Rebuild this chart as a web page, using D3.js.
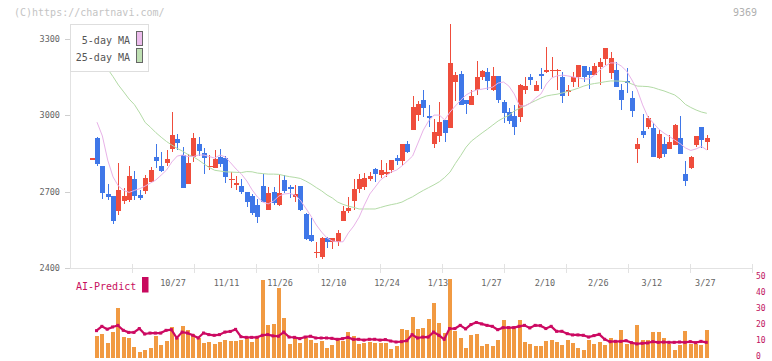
<!DOCTYPE html>
<html><head><meta charset="utf-8">
<script src="https://cdn.jsdelivr.net/npm/d3@7/dist/d3.min.js"></script>
<style>body{margin:0;background:#fff}svg{display:block}text{font-family:"DejaVu Sans Mono",monospace}</style>
</head><body><svg id="c" width="772" height="361"></svg>
<script>
const openP=[2831,2912,2801,2691,2683,2625,2663,2669,2750,2687,2703,2739,2837,2801,2814,2868,2907,2844,2731,2836,2887,2851,2800,2794,2836,2832,2747,2728,2722,2699,2683,2646,2722,2628,2699,2648,2746,2717,2680,2722,2613,2530,2463,2444,2518,2503,2503,2586,2625,2665,2712,2718,2751,2789,2765,2775,2786,2832,2822,2887,2944,3002,3060,2997,2888,2920,2982,2951,3132,3162,3060,3042,3100,3152,3170,3100,3155,3052,3013,2997,2995,3100,3152,3096,3162,3171,3179,3178,3151,3092,3132,3152,3194,3175,3160,3191,3223,3168,3178,3100,3135,3068,2868,2939,2954,2950,2832,2887,2868,2883,2911,2769,2793,2883,2954,2895];
const closeP=[2831,2809,2696,2680,2586,2707,2683,2762,2684,2676,2755,2786,2822,2782,2827,2923,2890,2716,2813,2912,2861,2833,2801,2827,2810,2759,2749,2735,2700,2659,2617,2602,2659,2695,2657,2695,2703,2712,2691,2627,2514,2506,2464,2518,2503,2517,2539,2624,2636,2711,2750,2754,2762,2769,2785,2776,2824,2822,2887,2856,3033,3045,3030,2991,2934,2974,2932,3206,3158,3041,3046,3076,3151,3174,3133,3155,3062,3010,2979,2955,3120,3116,3139,3119,3155,3179,3180,3179,3077,3100,3151,3198,3152,3160,3194,3210,3264,3224,3112,3060,3127,3017,2887,2923,2990,2837,2927,2849,2895,2962,2849,2742,2836,2919,2904,2911];
const highP=[2833,2916,2801,2730,2683,2814,2716,2802,2782,2707,2766,2798,2888,2856,2864,3013,2927,2874,2850,2932,2916,2873,2844,2864,2869,2840,2777,2763,2749,2699,2691,2671,2769,2718,2719,2765,2765,2726,2726,2722,2617,2596,2503,2520,2522,2517,2549,2644,2679,2750,2770,2775,2777,2794,2824,2813,2824,2844,2887,2899,3076,3056,3100,3041,2987,3052,2982,3359,3170,3174,3060,3100,3213,3178,3186,3190,3155,3062,3029,3041,3125,3151,3162,3135,3186,3269,3229,3182,3170,3119,3170,3198,3194,3191,3207,3227,3264,3247,3210,3123,3186,3096,2911,3005,2997,2970,2942,2915,2923,2966,2997,2820,2840,2919,2954,2923];
const lowP=[2829,2802,2672,2667,2571,2609,2653,2661,2667,2667,2691,2739,2793,2778,2801,2857,2864,2714,2730,2818,2841,2769,2785,2794,2796,2735,2716,2707,2690,2641,2608,2578,2659,2628,2646,2644,2695,2676,2661,2624,2510,2502,2440,2437,2479,2476,2488,2586,2617,2628,2695,2708,2742,2738,2754,2759,2773,2805,2802,2851,2944,2979,2992,2955,2873,2894,2896,2951,3057,3041,3005,3042,3080,3139,3100,3096,3050,2970,2964,2924,2975,3084,3119,3094,3103,3168,3149,3101,3050,3076,3111,3112,3131,3103,3160,3119,3198,3141,3111,3021,3086,2993,2813,2912,2946,2837,2828,2837,2868,2883,2849,2722,2789,2876,2872,2864];
const ma5=[null,2973,2919,2824,2758,2722,2705,2697,2705,2712,2722,2734,2746,2765,2785,2817,2840,2844,2838,2838,2844,2844,2838,2832,2844,2836,2813,2789,2769,2742,2707,2679,2659,2652,2663,2683,2691,2693,2687,2667,2636,2604,2569,2541,2518,2506,2503,2503,2538,2565,2600,2648,2691,2718,2746,2762,2777,2785,2801,2820,2840,2891,2942,2978,3001,3001,2982,3013,3037,3060,3080,3092,3100,3103,3107,3111,3127,3131,3115,3084,3037,3037,3048,3068,3084,3123,3147,3155,3158,3155,3151,3147,3143,3143,3158,3178,3194,3206,3206,3194,3174,3139,3100,3041,2993,2970,2946,2930,2917,2903,2889,2872,2862,2868,2878,2864];
const ma25=[3269,3237,3210,3182,3152,3119,3092,3064,3042,3009,2972,2953,2932,2914,2897,2883,2870,2859,2846,2837,2824,2809,2795,2784,2781,2778,2777,2776,2775,2779,2778,2773,2771,2769,2769,2768,2763,2759,2756,2752,2742,2730,2716,2703,2687,2675,2659,2650,2643,2638,2632,2632,2632,2632,2638,2644,2649,2653,2659,2670,2680,2693,2705,2716,2727,2739,2756,2777,2811,2842,2875,2899,2915,2931,2946,2962,2978,2990,3000,3017,3028,3037,3048,3058,3068,3076,3080,3083,3088,3094,3100,3107,3115,3121,3125,3128,3132,3135,3135,3134,3132,3123,3115,3114,3113,3109,3102,3096,3088,3080,3064,3043,3031,3021,3013,3008];
const volume=[null,13.6,14.8,9.2,16.1,31.1,12.9,12.3,6.7,3.6,4.8,6.1,13.6,7.9,10.4,19.2,12.3,19.8,17.3,14.8,12.3,9.2,9.8,8.5,9.8,11,10.4,10.4,11,12.3,9.8,12.9,48.6,20.4,21.1,43.5,24.8,8.5,12.3,9.2,12.3,11,9.2,10.4,6.1,7.9,11,10.4,16.1,13.6,8.5,9.2,9.8,9.2,9.2,9.2,5.4,7.3,17.9,17.3,25.4,17.9,18.6,24.2,34.2,21.7,15.4,49.2,16.7,12.3,6.1,14.2,14.8,7.3,8.5,7.3,11,23.6,18.6,18.6,23.6,9.8,8.5,7.3,7.3,10.4,11,9.8,7.9,11,9.2,6.1,4.8,11,8.5,9.8,7.9,12.3,9.8,17.3,8.5,8.5,20.4,11,11,16.1,16.1,12.3,8.5,4.8,7.9,16.7,8.5,8.5,7.9,17.3];
const aiPredict=[null,17.1,19.8,18.0,19.4,20.4,17.3,16.0,16.0,18.4,15.0,15.6,15.6,15.6,17.3,17.7,12.5,16.2,15.6,14.2,12.5,15.6,14.6,14.2,14.6,16.2,16.6,17.9,13.3,12.9,12.9,12.9,14.2,14.6,13.8,13.6,16.2,13.1,12.9,12.1,13.1,13.6,12.5,12.5,12.5,12.3,11.7,12.1,12.9,11.7,11.7,11.2,11.7,11.7,11.2,11.5,10.6,10.0,10.2,10.8,14.6,12.5,13.1,13.1,16.2,14.2,11.7,18.4,18.4,20.4,18.2,20.9,22.2,21.3,20.4,19.8,17.7,19.0,19.0,19.0,19.8,20.4,18.8,20.4,20.2,18.4,19.8,16.7,16.7,15.2,14.4,14.4,14.2,13.1,14.0,14.8,11.7,10.2,10.4,10.4,10.8,9.6,8.8,9.2,9.4,10.2,9.8,10.0,9.8,9.8,10.0,9.8,10.2,9.6,10.4,9.8];
const tickLabels=["10/27","11/11","11/26","12/10","12/24","1/13","1/27","2/10","2/26","3/12","3/27"];
const tickIndex=[13,23,33,43,53,63,73,83,93,103,113];
const priceTicks=[2400,2700,3000,3300];
const aiTicks=[0,10,20,30,40,50];

const svg=d3.select("#c");
const idx=d3.range(openP.length);
const x=d3.scaleLinear().domain([-4.05,123.45]).range([70,752]);
const y=d3.scaleLinear().domain([2400,3300]).range([268,39]);
const yV=d3.scaleLinear().domain([0,50]).range([358,278]);
const frame=d3.scaleLinear().domain([0,11]).range([70,752]);
const UP="#ef4d3c",DN="#3f77e8",AXC="#e2e2e2";

// header
svg.append("text").attr("x",14).attr("y",16).attr("font-size",10).attr("fill","#c4c4c4").text("(C)https://chartnavi.com/");
svg.append("text").attr("x",757).attr("y",16).attr("font-size",10).attr("fill","#b0b0b0").attr("text-anchor","end").text("9369");

const g=svg.append("g").attr("shape-rendering","crispEdges");
// axes
g.append("line").attr("x1",70.5).attr("x2",70.5).attr("y1",24).attr("y2",268).attr("stroke",AXC);
g.append("line").attr("x1",70).attr("x2",752).attr("y1",268.5).attr("y2",268.5).attr("stroke",AXC);
g.selectAll(".ft").data(d3.range(1,12)).join("line").attr("x1",d=>Math.round(frame(d))+0.5).attr("x2",d=>Math.round(frame(d))+0.5).attr("y1",264).attr("y2",273).attr("stroke",AXC);
g.selectAll(".yt").data(priceTicks).join("line").attr("x1",65).attr("x2",70).attr("y1",d=>Math.round(y(d))+0.5).attr("y2",d=>Math.round(y(d))+0.5).attr("stroke","#cfcfcf");
svg.selectAll(".yl").data(priceTicks).join("text").attr("x",60).attr("y",d=>y(d)+3).attr("text-anchor","end").attr("font-size",8.5).attr("fill","#666").text(d=>d);
svg.selectAll(".xl").data(tickIndex).join("text").attr("x",d=>x(d)-1).attr("y",285.5).attr("font-size",8.5).attr("fill","#666").text((d,i)=>tickLabels[i]);

// MA lines
const lineOf=arr=>d3.line().defined(i=>arr[i]!=null).x(i=>x(i)).y(i=>y(arr[i]));
svg.append("path").attr("d",lineOf(ma25)(idx)).attr("fill","none").attr("stroke","#b3dba6").attr("stroke-width",1);
svg.append("path").attr("d",lineOf(ma5)(idx)).attr("fill","none").attr("stroke","#e8b2e8").attr("stroke-width",1);

// candles
const cg=g.append("g");
idx.forEach(i=>{
  const o=openP[i],c=closeP[i],col=c>=o?UP:DN,cx=Math.round(x(i));
  cg.append("rect").attr("x",cx).attr("width",1).attr("y",y(highP[i])).attr("height",Math.max(1,y(lowP[i])-y(highP[i]))).attr("fill",col);
  const top=y(Math.max(o,c)),bot=y(Math.min(o,c));
  if(bot-top<1.5){
    cg.append("rect").attr("x",cx-2).attr("width",6).attr("y",top).attr("height",1.2).attr("fill",col);
  } else {
    cg.append("rect").attr("x",cx-2).attr("width",5).attr("y",top).attr("height",bot-top).attr("fill",col);
  }
});

// legend
svg.append("rect").attr("x",70.5).attr("y",24.5).attr("width",78).attr("height",47).attr("fill","#fff").attr("stroke","#dedede");
const legItems=[["5-day MA","#ecbcec"],["25-day MA","#bfe0b3"]];
legItems.forEach((d,k)=>{
  svg.append("text").attr("x",130).attr("y",44+k*17).attr("text-anchor","end").attr("font-size",10).attr("fill","#555").text(d[0]);
  svg.append("rect").attr("x",136.5).attr("y",31.5+k*17).attr("width",6).attr("height",14).attr("fill",d[1]).attr("stroke","#666");
});

// volume panel
g.selectAll(".vb").data(idx.filter(i=>volume[i]!=null)).join("rect")
  .attr("x",i=>Math.round(x(i))-2.5).attr("width",4).attr("y",i=>yV(volume[i])).attr("height",i=>yV(0)-yV(volume[i])).attr("fill","#f19a42");
const aiIdx=idx.filter(i=>aiPredict[i]!=null);
svg.append("path").attr("d",d3.line().x(i=>x(i)-0.5).y(i=>yV(aiPredict[i]))(aiIdx)).attr("fill","none").attr("stroke","#cc0a62").attr("stroke-width",2.2);
svg.selectAll(".am").data(aiIdx).join("rect").attr("x",i=>x(i)-2).attr("y",i=>yV(aiPredict[i])-1.5).attr("width",3).attr("height",3).attr("fill","#cc0a62");
svg.selectAll(".al").data(aiTicks).join("text").attr("x",756).attr("y",d=>yV(d)+1).attr("font-size",8).attr("fill","#c0115e").text(d=>d);
svg.append("text").attr("x",76).attr("y",290).attr("font-size",10).attr("fill","#c8105e").text("AI-Predict");
svg.append("rect").attr("x",142).attr("y",277).attr("width",6.5).attr("height",15.5).attr("fill","#c8095e");
</script></body></html>
